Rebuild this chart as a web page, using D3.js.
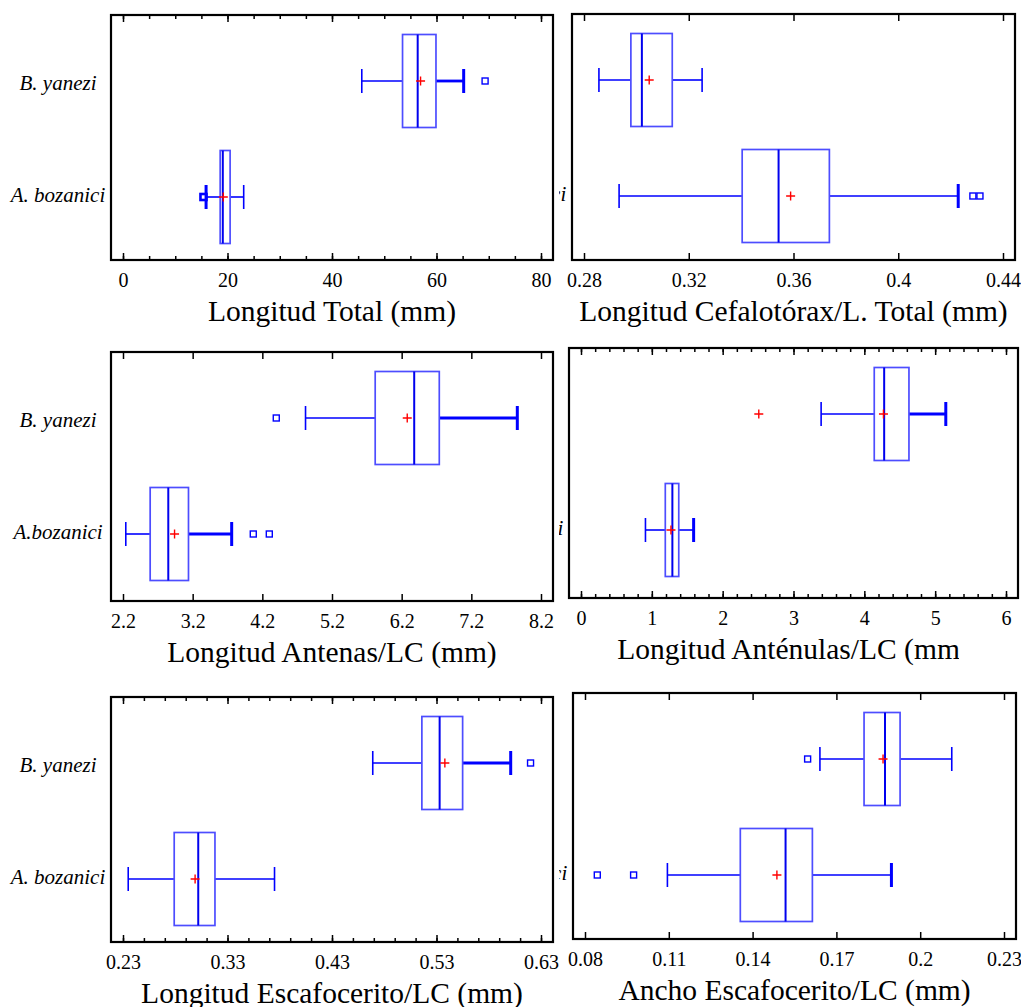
<!DOCTYPE html>
<html>
<head>
<meta charset="utf-8">
<title></title>
<script src="https://cdn.jsdelivr.net/npm/d3@7"></script>
<style>
  body { margin: 0; background: #fff; }
  svg { display: block; }
  .tick text { font-family: "Liberation Serif", "Times New Roman", serif; }
</style>
</head>
<body>
<script>
// categories (same order in every panel: top, bottom)
const speciesLabels = ["B. yanezi", "A. bozanici"];
const antenasLabels = ["B. yanezi", "A.bozanici"];

// each stats row: [whisker low, Q1, median, Q3, whisker high]
const totalTicks = [0, 20, 40, 60, 80];
const totalStats = [[45.7, 53.5, 56.4, 59.9, 65.2], [15.9, 18.6, 19.1, 20.5, 23.1]];
const totalMeans = [56.95, 19.2];
const totalOutliers = [[69.3], [15.4]];

const cefaloTicks = [0.28, 0.32, 0.36, 0.4, 0.44];
const cefaloStats = [[0.2857, 0.2979, 0.3021, 0.3137, 0.3251], [0.2934, 0.3404, 0.3543, 0.3737, 0.4229]];
const cefaloMeans = [0.3049, 0.3589];
const cefaloOutliers = [[], [0.4285, 0.4312]];

const antenasTicks = [2.2, 3.2, 4.2, 5.2, 6.2, 7.2, 8.2];
const antenasStats = [[4.82, 5.82, 6.38, 6.74, 7.86], [2.24, 2.59, 2.85, 3.14, 3.76]];
const antenasMeans = [6.28, 2.94];
const antenasOutliers = [[4.40], [4.07, 4.30]];

const antenulasTicks = [0, 1, 2, 3, 4, 5, 6];
const antenulasStats = [[3.39, 4.14, 4.28, 4.63, 5.15], [0.91, 1.19, 1.29, 1.38, 1.59]];
const antenulasMeans = [4.27, 1.27];
const antenulasOutliers = [[], []];
const antenulasExtraMarks = [[2.51], []];

const escLongTicks = [0.23, 0.33, 0.43, 0.53, 0.63];
const escLongStats = [[0.469, 0.516, 0.533, 0.555, 0.601], [0.235, 0.279, 0.302, 0.318, 0.375]];
const escLongMeans = [0.538, 0.299];
const escLongOutliers = [[0.620], []];

const escAnchoTicks = [0.08, 0.11, 0.14, 0.17, 0.2, 0.23];
const escAnchoStats = [[0.1641, 0.1799, 0.1874, 0.1928, 0.2113], [0.1095, 0.1356, 0.1518, 0.1614, 0.1897]];
const escAnchoMeans = [0.1867, 0.1487];
const escAnchoOutliers = [[0.1597], [0.0844, 0.0974]];

// panel layout
const panels = [
  { title: "Longitud Total (mm)", labels: speciesLabels, ticks: totalTicks, minor: 5,
    stats: totalStats, means: totalMeans, outliers: totalOutliers, extra: [[], []],
    x: 111, y: 15, w: 442, h: 245, heavy: ["hi", "loCap out"] },
  { title: "Longitud Cefalotórax/L. Total (mm)", labels: speciesLabels, ticks: cefaloTicks, minor: 0,
    stats: cefaloStats, means: cefaloMeans, outliers: cefaloOutliers, extra: [[], []],
    x: 572, y: 14, w: 443, h: 246, heavy: ["", "hiCap"] },
  { title: "Longitud Antenas/LC (mm)", labels: antenasLabels, ticks: antenasTicks, minor: 0,
    stats: antenasStats, means: antenasMeans, outliers: antenasOutliers, extra: [[], []],
    x: 111, y: 352, w: 442, h: 249, heavy: ["hi", "hi"] },
  { title: "Longitud Anténulas/LC (mm)", labels: speciesLabels, ticks: antenulasTicks, minor: 0.2,
    stats: antenulasStats, means: antenulasMeans, outliers: antenulasOutliers, extra: antenulasExtraMarks,
    x: 569, y: 348, w: 449, h: 250, heavy: ["hi", "hiCap"], clipTitle: true },
  { title: "Longitud Escafocerito/LC (mm)", labels: speciesLabels, ticks: escLongTicks, minor: 0.02,
    stats: escLongStats, means: escLongMeans, outliers: escLongOutliers, extra: [[], []],
    x: 111, y: 697, w: 442, h: 245, heavy: ["hi", ""] },
  { title: "Ancho Escafocerito/LC (mm)", labels: speciesLabels, ticks: escAnchoTicks, minor: 0,
    stats: escAnchoStats, means: escAnchoMeans, outliers: escAnchoOutliers, extra: [[], []],
    x: 573, y: 693, w: 443, h: 246, heavy: ["", "hiCap"] }
];

const serif = "'Liberation Serif', 'Times New Roman', serif";
const boxColor = "#4d4dff";
const lineColor = "#0000ff";
const labelShift = [9, 5];

const svg = d3.select("body").append("svg")
  .attr("width", 1021)
  .attr("height", 1007)
  .style("background", "#fff");

const defs = svg.append("defs");
// the right column only shows the last slivers of its row labels
defs.append("clipPath").attr("id", "rightLabels")
  .append("rect").attr("x", 559).attr("y", 0).attr("width", 462).attr("height", 1007);
defs.append("clipPath").attr("id", "titleCut")
  .append("rect").attr("x", 0).attr("y", 0).attr("width", 959).attr("height", 1007);

function plus(g, cx, cy) {
  g.append("path")
    .attr("d", `M${cx - 4.5},${cy}H${cx + 4.5}M${cx},${cy - 4.5}V${cy + 4.5}`)
    .attr("stroke", "#ff0000")
    .attr("stroke-width", 1.4)
    .attr("fill", "none");
}

panels.forEach(function(p) {
  const g = svg.append("g");
  const n = p.ticks.length;

  const x = d3.scaleLinear()
    .domain([p.ticks[0], p.ticks[n - 1]])
    .range([p.x + 12, p.x + p.w - 12]);

  const y = d3.scalePoint()
    .domain([0, 1])
    .range([p.y + 66, p.y + 182]);

  // minor ticks
  if (p.minor) {
    const minorVals = d3.range(0, Math.round((p.ticks[n - 1] - p.ticks[0]) / p.minor) + 1)
      .map(i => p.ticks[0] + i * p.minor);
    g.append("g")
      .attr("transform", `translate(0,${p.y + p.h})`)
      .call(d3.axisBottom(x).tickValues(minorVals).tickSize(-4).tickFormat(""))
      .call(a => a.select(".domain").remove());
    g.append("g")
      .attr("transform", `translate(0,${p.y})`)
      .call(d3.axisTop(x).tickValues(minorVals).tickSize(-4).tickFormat(""))
      .call(a => a.select(".domain").remove());
  }

  // major ticks, top and bottom, pointing in
  g.append("g")
    .attr("transform", `translate(0,${p.y + p.h})`)
    .call(d3.axisBottom(x).tickValues(p.ticks).tickSize(-7).tickFormat(""))
    .call(a => a.select(".domain").remove());
  g.append("g")
    .attr("transform", `translate(0,${p.y})`)
    .call(d3.axisTop(x).tickValues(p.ticks).tickSize(-7).tickFormat(""))
    .call(a => a.select(".domain").remove());
  g.selectAll(".tick line").attr("stroke", "#000").attr("stroke-width", 1.5);

  // tick labels
  g.append("g")
    .attr("transform", `translate(0,${p.y + p.h})`)
    .call(d3.axisBottom(x).tickValues(p.ticks).tickSize(0).tickPadding(13).tickFormat(d => String(d)))
    .call(a => a.select(".domain").remove())
    .selectAll("text")
    .attr("font-family", serif)
    .attr("font-size", 20)
    .attr("fill", "#000");

  // frame
  g.append("rect")
    .attr("x", p.x).attr("y", p.y)
    .attr("width", p.w).attr("height", p.h)
    .attr("fill", "none")
    .attr("stroke", "#000")
    .attr("stroke-width", 2.2);

  // axis title
  const title = g.append("text")
    .attr("x", p.x + p.w / 2)
    .attr("y", p.y + p.h + 61)
    .attr("text-anchor", "middle")
    .attr("font-family", serif)
    .attr("font-size", 29.5)
    .attr("fill", "#000")
    .text(p.title);
  if (p.clipTitle) title.attr("clip-path", "url(#titleCut)");

  // row labels
  const lab = g.append("g");
  if (p.x > 500) lab.attr("clip-path", "url(#rightLabels)");
  p.labels.forEach(function(t, i) {
    lab.append("text")
      .attr("x", p.x - 53)
      .attr("y", y(i) + labelShift[i])
      .attr("text-anchor", "middle")
      .attr("font-family", serif)
      .attr("font-style", "italic")
      .attr("font-size", 21)
      .attr("fill", "#000")
      .text(t);
  });

  // boxes
  p.stats.forEach(function(s, i) {
    const cy = y(i);
    const hv = p.heavy[i];
    const hiW = hv.includes("hi") && !hv.includes("hiCap") ? 2.8 : 1.6;
    const hiCapW = hv.includes("hi") ? 3 : 1.6;
    const loCapW = hv.includes("loCap") ? 3 : 1.6;

    g.append("line")
      .attr("x1", x(s[0])).attr("x2", x(s[1]))
      .attr("y1", cy).attr("y2", cy)
      .attr("stroke", lineColor).attr("stroke-width", 1.6);
    g.append("line")
      .attr("x1", x(s[3])).attr("x2", x(s[4]))
      .attr("y1", cy).attr("y2", cy)
      .attr("stroke", lineColor).attr("stroke-width", hiW);
    g.append("line")
      .attr("x1", x(s[0])).attr("x2", x(s[0]))
      .attr("y1", cy - 12).attr("y2", cy + 12)
      .attr("stroke", lineColor).attr("stroke-width", loCapW);
    g.append("line")
      .attr("x1", x(s[4])).attr("x2", x(s[4]))
      .attr("y1", cy - 12).attr("y2", cy + 12)
      .attr("stroke", lineColor).attr("stroke-width", hiCapW);

    g.append("rect")
      .attr("x", x(s[1])).attr("y", cy - 46.5)
      .attr("width", x(s[3]) - x(s[1])).attr("height", 93)
      .attr("fill", "#fff")
      .attr("stroke", boxColor).attr("stroke-width", 1.7);
    g.append("line")
      .attr("x1", x(s[2])).attr("x2", x(s[2]))
      .attr("y1", cy - 46.5).attr("y2", cy + 46.5)
      .attr("stroke", "#0000ee").attr("stroke-width", 2);

    plus(g, x(p.means[i]), cy);
    p.extra[i].forEach(v => plus(g, x(v), cy));

    p.outliers[i].forEach(function(v) {
      g.append("rect")
        .attr("x", x(v) - 3).attr("y", cy - 3)
        .attr("width", 6).attr("height", 6)
        .attr("fill", "none")
        .attr("stroke", lineColor)
        .attr("stroke-width", hv.includes("out") ? 2.6 : 1.4);
    });
  });
});
</script>
</body>
</html>
